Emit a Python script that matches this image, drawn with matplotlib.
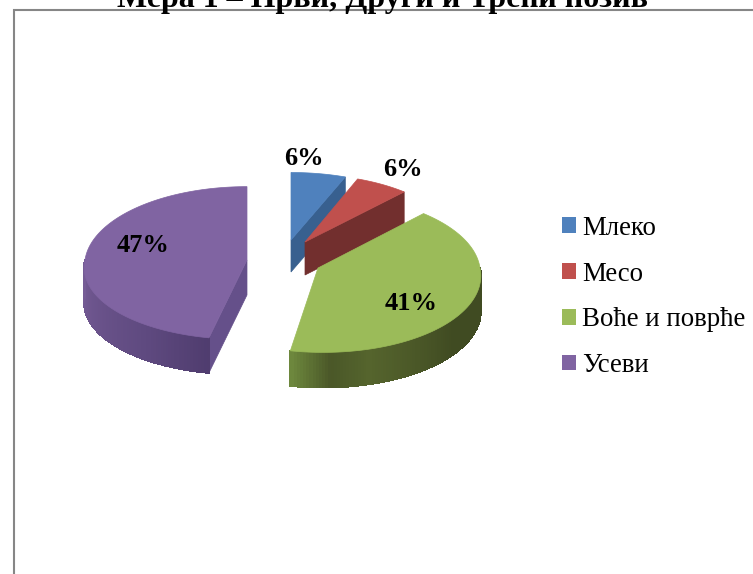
import numpy as np
import matplotlib
matplotlib.use("Agg")
import matplotlib.pyplot as plt
from matplotlib.patches import Polygon, Patch

title = "Мера 1 – Први, Други и Трећи позив"
categories = ["Млеко", "Месо", "Воће и поврће", "Усеви"]
values = [6, 6, 41, 47]
labels = ["6%", "6%", "41%", "47%"]

top_colors = ["#4F81BD", "#C0504D", "#9BBB59", "#8064A2"]
side_colors = ["#38608F", "#722F2E", "#6F8A3E", "#65508A"]
centers = [(291, 240), (305, 242), (318, 268), (247, 260)]
scales_x = [0.97, 0.94, 1.0, 1.0]
scales_y = [0.92, 0.92, 1.0, 1.0]
near_y = [1.0, 1.0, 1.0, 0.94]
near_shear = [0.0, 0.0, 0.06, -0.07]
depths = [32, 33, 35, 35]
label_pos = [(304, 158.5), (403, 169.5), (411, 303), (143, 245)]
rim_stops = {
    2: ([90, 130, 165, 178, 191], ["#404B22", "#404B22", "#55642D", "#4A5728", "#6F8A3E"]),
    3: ([190, 215, 270], ["#4F3C6E", "#5F4A80", "#765C96"]),
}
draw_order = [3, 0, 1, 2]

RX, RY, PERSP = 162, 78.5, 0.07

fig = plt.figure(figsize=(7.53, 5.74), dpi=100, facecolor="white")
ax = fig.add_axes([0, 0, 1, 1])
ax.set_xlim(0, 753)
ax.set_ylim(574, 0)
ax.axis("off")

ax.plot([14.5, 14.5, 760], [580, 9.5, 9.5], color="#868686", lw=1.5, solid_joinstyle="miter")
ax.text(383, 7, title, family="Liberation Serif", weight="bold", fontsize=23,
        ha="center", va="baseline", color="black")


def project(i, deg):
    t = np.radians(deg)
    c, s = np.cos(t), np.sin(t)
    w = 1 + PERSP * c
    dy = -scales_y[i] * RY * c / w
    if c < 0:
        dy *= near_y[i]
    dx = scales_x[i] * RX * s / w
    if c < 0:
        dx += near_shear[i] * dy
    return centers[i][0] + dx, centers[i][1] + dy


def hex_rgb(c):
    return np.array(matplotlib.colors.to_rgb(c))


edges = np.concatenate([[0], np.cumsum(values)]) * 3.6
for i in draw_order:
    a0, a1 = edges[i], edges[i + 1]
    d = depths[i]
    cx, cy = centers[i]
    # radial side faces that look toward the viewer
    for ang, vis in ((a0, np.sin(np.radians(a0)) < -1e-6), (a1, np.sin(np.radians(a1)) > 1e-6)):
        if vis:
            px, py = project(i, ang)
            ax.add_patch(Polygon([(cx, cy), (px, py), (px, py + d), (cx, cy + d)],
                                 closed=True, fc=side_colors[i], ec=side_colors[i], lw=0.5))
    # outer rim strips on the near half
    lo, hi = max(a0, 90), min(a1, 270)
    if hi > lo:
        ts = np.linspace(lo, hi, int(hi - lo) + 2)
        for t0, t1 in zip(ts[:-1], ts[1:]):
            if i in rim_stops:
                st, cols = rim_stops[i]
                rgb = [hex_rgb(c) for c in cols]
                col = [np.interp((t0 + t1) / 2, st, [c[k] for c in rgb]) for k in range(3)]
            else:
                col = side_colors[i]
            x0, y0 = project(i, t0)
            x1, y1 = project(i, t1)
            ax.add_patch(Polygon([(x0, y0), (x1, y1), (x1, y1 + d), (x0, y0 + d)],
                                 closed=True, fc=col, ec=col, lw=0.8, antialiased=False))
    # top surface
    ts = np.linspace(a0, a1, 120)
    pts = [(cx, cy)] + [project(i, t) for t in ts]
    ax.add_patch(Polygon(pts, closed=True, fc=top_colors[i], ec=top_colors[i], lw=0.5))

for (x, y), s in zip(label_pos, labels):
    ax.text(x, y, s, family="Liberation Serif", weight="bold", fontsize=19,
            ha="center", va="center", color="black")

handles = [Patch(fc=c, ec=c, lw=0) for c in top_colors]
ax.legend(handles, categories, loc="center left", bbox_to_anchor=(562 / 753, 1 - 297 / 574),
          bbox_transform=fig.transFigure, frameon=False, borderpad=0, borderaxespad=0,
          prop={"family": "Liberation Serif", "size": 19.4}, labelspacing=0.77,
          handlelength=0.52, handleheight=0.52, handletextpad=0.22)

fig.savefig("out.png", dpi=100)
